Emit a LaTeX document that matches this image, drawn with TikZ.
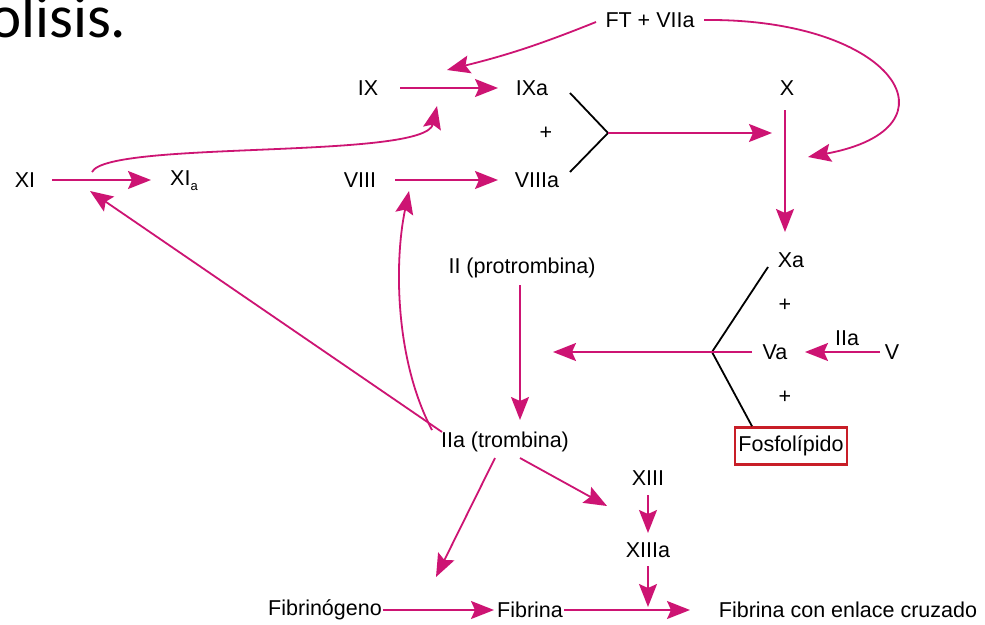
\documentclass[tikz,border=0pt]{standalone}
\usepackage{fontspec}
\setmainfont{Liberation Sans}
\newfontfamily\titlefont{Carlito}
\usetikzlibrary{arrows.meta}
\definecolor{rxn}{RGB}{205,20,115}
\definecolor{boxred}{RGB}{200,30,40}

\begin{document}
\begin{tikzpicture}[x=1pt,y=-1pt,
  lbl/.style={font=\fontsize{21.5}{24}\selectfont, inner sep=1pt},
  rx/.style={draw=rxn, line width=1.8pt, -{Stealth[length=23pt,width=18pt,inset=4pt]}},
  cplx/.style={draw=black, line width=1.8pt}]
\useasboundingbox (0,0) rectangle (985,624);
\fill[white] (0,0) rectangle (985,624);

% heading from the slide, cut by the page edge
\node[anchor=base west, font=\titlefont\fontsize{61}{70}\selectfont, inner sep=0] (ttl) at (-11,37) {olisis.};

% factors
\node[lbl] (ft) at (650,20) {FT + VIIa};
\node[lbl] (ix) at (368,88) {IX};
\node[lbl] (ixa) at (532,88) {IXa};
\node[lbl] (p1) at (546,133) {+};
\node[lbl] (viii) at (360,180) {VIII};
\node[lbl] (viiia) at (537,180) {VIIIa};
\node[lbl] (x) at (787,88) {X};
\node[lbl] (xa) at (791,260) {Xa};
\node[lbl] (xi) at (25,180) {XI};
\node[lbl] (xia) at (184,181) {XI\raisebox{-0.45ex}{\fontsize{13}{13}\selectfont a}};
\node[lbl] (ii) at (522,268) {II (protrombina)};
\node[lbl] (iia) at (505,442) {IIa (trombina)};
\node[lbl] (p2) at (785,305) {+};
\node[lbl] (va) at (775,352) {Va};
\node[lbl] (p3) at (785,397) {+};
\node[lbl, draw=boxred, line width=2.6pt, minimum width=112pt, minimum height=37pt, inner sep=0pt] (fos) at (791,446) {Fosfolípido};
\node[lbl] (iiav) at (847,338) {IIa};
\node[lbl] (v) at (892,352) {V};
\node[lbl] (xiii) at (648,478) {XIII};
\node[lbl] (xiiia) at (648,550) {XIIIa};
\node[lbl] (fgn) at (325,610) {Fibrinógeno};
\node[lbl] (fib) at (530,610) {Fibrina};
\node[lbl] (fcc) at (848,610) {Fibrina con enlace cruzado};

% junctions of the two complexes and free arrow ends
\coordinate (j1) at (608,133);
\coordinate (j2) at (712,352);
\coordinate (tenaseEnd) at (772,133);
\coordinate (prothEnd) at (553,352);
\coordinate (onIX) at (447,70);
\coordinate (onIXup) at (437,106);
\coordinate (onX) at (808,157);
\coordinate (xiStart) at (92,172);
\coordinate (onXI) at (90,191);
\coordinate (onVIII) at (409,191);
\coordinate (onFgn) at (436,577);
\coordinate (onXIII) at (607,506);
\coordinate (onXIIIa) at (648,607);

% extrinsic trigger
\draw[rx] ([shift={(-54,2)}]ft.center) to[bend left=4] (onIX);
\draw[rx] ([shift={(54,0)}]ft.center) .. controls (895,18) and (965,128) .. (onX);

% intrinsic path
\draw[rx] ([shift={(32,0)}]ix.center) -- ([shift={(-34,0)}]ixa.center);
\draw[rx] ([shift={(35,0)}]viii.center) -- ([shift={(-39,0)}]viiia.center);
\draw[rx] ([shift={(27,0)}]xi.center) -- ([shift={(-33,-1)}]xia.center);
\draw[rx] (xiStart) .. controls (108,140) and (425,160) .. (onIXup);

% tenase complex IXa + VIIIa
\draw[cplx] ([shift={(38,5)}]ixa.center) -- (j1) -- ([shift={(33,-8)}]viiia.center);
\draw[rx] (j1) -- (tenaseEnd);
\draw[rx] ([shift={(-2,22)}]x.center) -- ([shift={(-6,-28)}]xa.center);

% prothrombinase complex Xa + Va + phospholipid
\draw[cplx] ([shift={(-23,7)}]xa.center) -- (j2) -- ([shift={(-39,0)}]fos.north);
\draw[rx] ([shift={(-23,0)}]va.center) -- (prothEnd);
\draw[rx] ([shift={(-12,0)}]v.center) -- ([shift={(30,0)}]va.center);

% thrombin formation and its feedback loops
\draw[rx] ([shift={(-2,17)}]ii.center) -- ([shift={(15,-22)}]iia.center);
\draw[rx] ([shift={(-63,-10)}]iia.center) -- (onXI);
\draw[rx] ([shift={(-73,-12)}]iia.center) .. controls (395,360) and (394,262) .. (onVIII);

% fibrin formation and cross-linking
\draw[rx] ([shift={(-10,16)}]iia.center) -- (onFgn);
\draw[rx] ([shift={(15,16)}]iia.center) -- (onXIII);
\draw[rx] ([shift={(0,17)}]xiii.center) -- ([shift={(0,-17)}]xiiia.center);
\draw[rx] ([shift={(0,16)}]xiiia.center) -- (onXIIIa);
\draw[rx] ([shift={(58,0)}]fgn.center) -- ([shift={(-36,0)}]fib.center);
\draw[rx] ([shift={(34,0)}]fib.center) -- ([shift={(-158,0)}]fcc.center);
\end{tikzpicture}
\end{document}
